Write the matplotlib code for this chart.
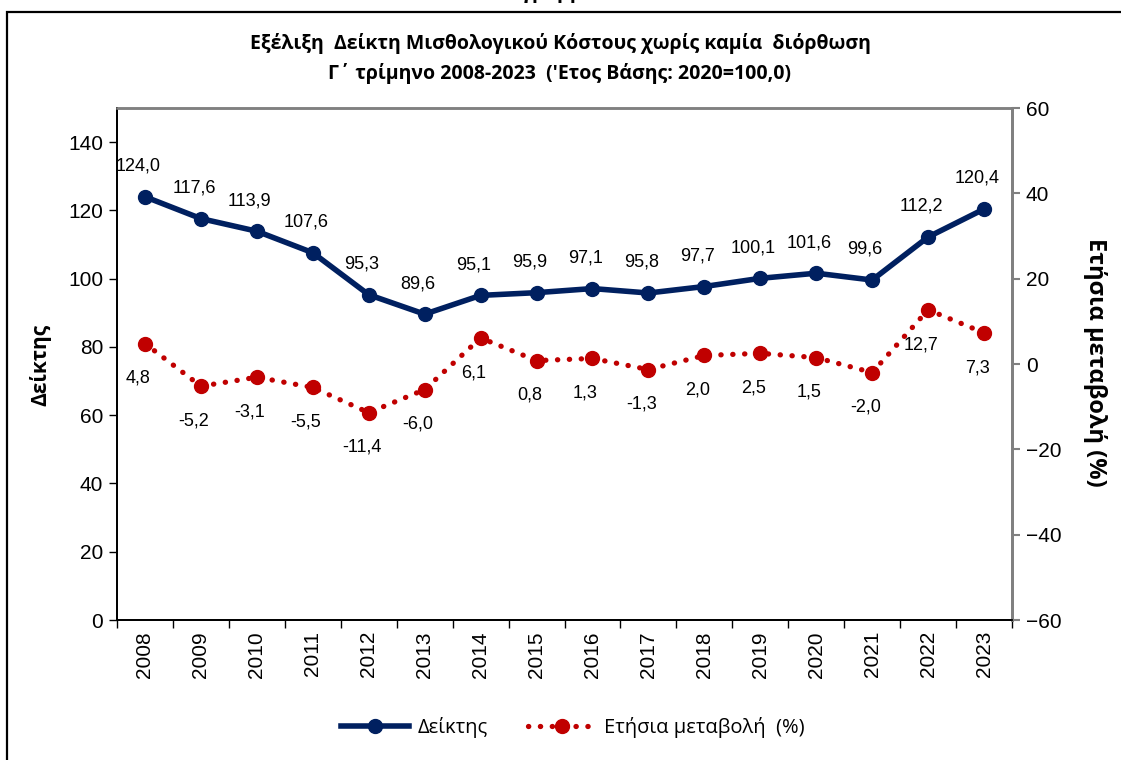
import matplotlib
matplotlib.use("Agg")
import matplotlib.pyplot as plt
from matplotlib.patches import Rectangle
from matplotlib.lines import Line2D

# Data
years = [str(y) for y in range(2008, 2024)]
index_values = [124.0, 117.6, 113.9, 107.6, 95.3, 89.6, 95.1, 95.9,
                97.1, 95.8, 97.7, 100.1, 101.6, 99.6, 112.2, 120.4]
annual_change = [4.8, -5.2, -3.1, -5.5, -11.4, -6.0, 6.1, 0.8,
                 1.3, -1.3, 2.0, 2.5, 1.5, -2.0, 12.7, 7.3]

left_ticks = [0, 20, 40, 60, 80, 100, 120, 140]
right_ticks = [-60, -40, -20, 0, 20, 40, 60]

BLUE = "#002060"
RED = "#C00000"
GREY = "#808080"
TXT = ["Open Sans", "DejaVu Sans"]
NUM = ["Liberation Sans", "DejaVu Sans"]


def fmt(v):
    return f"{v:.1f}".replace(".", ",")


fig = plt.figure(figsize=(11.21, 7.6), dpi=100)
W, H = 1121, 760

# outer frame of the chart object (runs off right and bottom edges)
fig.patches.append(Rectangle((7 / W, -0.05), 1.2, (760 - 12) / H + 0.05,
                             transform=fig.transFigure, fill=False,
                             edgecolor="black", linewidth=1.6))
# cut-off heading above the frame
fig.text(550 / W, 1 + 2 / H, "Διάγραμμα 2", ha="center", va="baseline",
         fontsize=14, fontweight="bold", family=TXT)

fig.text(560 / W, 1 - 44 / H,
         "Εξέλιξη  Δείκτη Μισθολογικού Κόστους χωρίς καμία  διόρθωση",
         ha="center", va="center", fontsize=14, fontweight="bold", family=TXT)
fig.text(560 / W, 1 - 73 / H,
         "Γ΄ τρίμηνο 2008-2023  ('Ετος Βάσης: 2020=100,0)",
         ha="center", va="center", fontsize=14, fontweight="bold", family=TXT)

ax = fig.add_axes([117 / W, 1 - 620 / H, (1012 - 117) / W, (620 - 108) / H])
ax2 = ax.twinx()
ax.set_zorder(ax2.get_zorder() + 1)
ax.patch.set_visible(False)

x = list(range(len(years)))

ax2.plot(x, annual_change, color=RED, linewidth=3.8,
         linestyle=(0, (0.05, 2.2)), dash_capstyle="round",
         marker="o", markersize=10, markerfacecolor=RED,
         markeredgecolor=RED, zorder=3)
ax.plot(x, index_values, color=BLUE, linewidth=4, marker="o",
        markersize=10, markerfacecolor=BLUE, markeredgecolor=BLUE, zorder=4)

for xi, v in zip(x, index_values):
    ax.annotate(fmt(v), (xi, v), xytext=(-5, 22), textcoords="offset points",
                ha="center", va="center", fontsize=13, family=NUM)
for xi, v in zip(x, annual_change):
    ax2.annotate(fmt(v), (xi, v), xytext=(-5, -25), textcoords="offset points",
                 ha="center", va="center", fontsize=13, family=NUM)

ax.set_xlim(-0.5, len(years) - 0.5)
ax.set_ylim(0, 150)
ax2.set_ylim(-60, 60)
ax.set_yticks(left_ticks)
ax2.set_yticks(right_ticks)
ax.set_xticks(x)
ax.set_xticklabels(years, rotation=90, fontsize=15, family=NUM)
ax.set_xticks([i - 0.5 for i in range(len(years) + 1)], minor=True)
ax.tick_params(axis="x", which="major", length=0, pad=8)
ax.tick_params(axis="x", which="minor", length=6, width=1, direction="out")
ax.tick_params(axis="y", length=6, width=1, labelsize=15, pad=4)
ax2.tick_params(axis="y", length=6, width=1.5, color=GREY, labelsize=15, pad=4)
for lbl in ax.get_yticklabels() + ax2.get_yticklabels():
    lbl.set_family(NUM)

for a in (ax, ax2):
    a.spines["left"].set_color("black")
    a.spines["left"].set_linewidth(1.3)
    a.spines["bottom"].set_color("black")
    a.spines["bottom"].set_linewidth(1.3)
    a.spines["top"].set_color(GREY)
    a.spines["top"].set_linewidth(1.8)
    a.spines["right"].set_color(GREY)
    a.spines["right"].set_linewidth(2)

fig.text(40 / W, 1 - 365 / H, "Δείκτης", rotation=90, ha="center",
         va="center", fontsize=15, fontweight="bold", family=TXT)
fig.text(1095 / W, 1 - 362 / H, "Ετήσια μεταβολή (%)", rotation=-90,
         ha="center", va="center", fontsize=17, fontweight="bold", family=TXT)

handles = [
    Line2D([], [], color=BLUE, linewidth=4, marker="o", markersize=10),
    Line2D([], [], color=RED, linewidth=3.8, linestyle=(0, (0.05, 2.2)),
           dash_capstyle="round", marker="o", markersize=10),
]
fig.legend(handles, ["Δείκτης", "Ετήσια μεταβολή  (%)"],
           loc="center", bbox_to_anchor=(573 / W, 1 - 728 / H), ncol=2,
           frameon=False, handlelength=3.4, handletextpad=0.4,
           columnspacing=2.0, prop={"family": TXT, "size": 14.5})

fig.savefig("out.png", dpi=100)
